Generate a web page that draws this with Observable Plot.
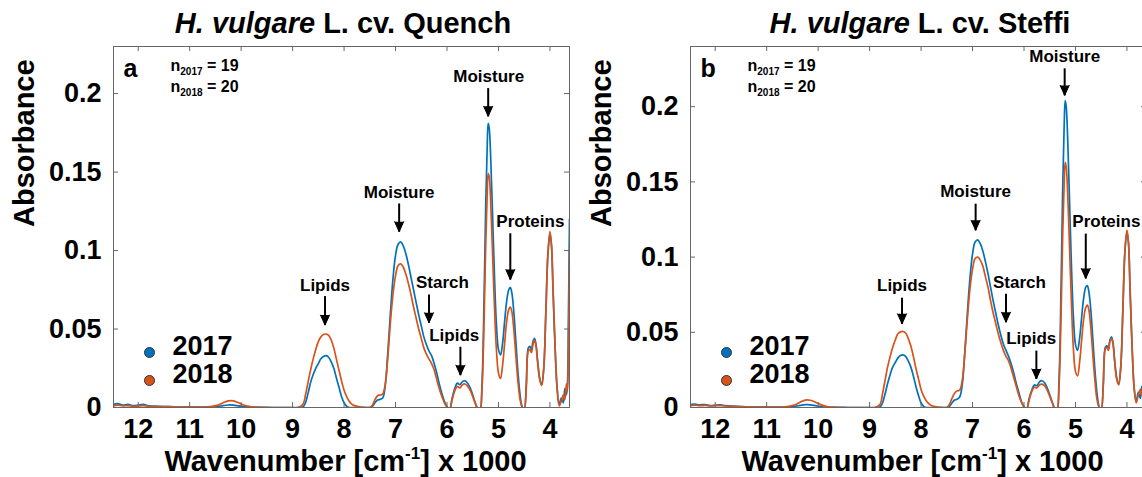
<!DOCTYPE html>
<html><head><meta charset="utf-8">
<script src="https://cdn.jsdelivr.net/npm/d3@7"></script>
<script src="https://cdn.jsdelivr.net/npm/@observablehq/plot@0.6"></script>
<style>
html,body{margin:0;padding:0;background:#fff;overflow:hidden;width:1142px;height:477px;}
#wrap{position:relative;width:1142px;height:477px;overflow:hidden;font-family:"Liberation Sans",Arial,sans-serif;}
.panel{position:absolute;top:0;width:577px;height:477px;}
.title{position:absolute;top:9px;width:600px;margin-left:-300px;text-align:center;font-weight:bold;font-size:29px;line-height:29px;white-space:nowrap;color:#000;}
</style></head><body><div id="wrap"></div>
<script>
// ---- data ----
const wavenumber = [
  12.48,12.4,12.3,12.2,12.1,12.0,11.9,11.8,11.6,11.4,
  11.2,11.0,10.8,10.6,10.45,10.35,10.25,10.15,10.05,9.95,
  9.85,9.7,9.4,9.1,8.9,8.8,8.75,8.7,8.65,8.6,
  8.55,8.5,8.45,8.4,8.35,8.3,8.25,8.2,8.15,8.1,
  8.05,8.0,7.95,7.9,7.85,7.8,7.7,7.6,7.5,7.45,
  7.4,7.35,7.3,7.25,7.2,7.15,7.1,7.05,7.0,6.95,
  6.9,6.85,6.8,6.75,6.7,6.65,6.6,6.55,6.5,6.45,
  6.4,6.35,6.3,6.25,6.2,6.15,6.1,6.05,6.0,5.95,
  5.9,5.85,5.8,5.75,5.7,5.65,5.6,5.55,5.5,5.45,
  5.4,5.36,5.32,5.28,5.25,5.22,5.2,5.18,5.15,5.12,
  5.08,5.04,5.0,4.96,4.92,4.88,4.84,4.8,4.77,4.74,
  4.7,4.66,4.62,4.58,4.54,4.5,4.46,4.42,4.39,4.36,
  4.33,4.3,4.27,4.24,4.2,4.16,4.12,4.08,4.04,4.0,
  3.97,3.94,3.9,3.86,3.82,3.78,3.74,3.71,3.68,3.66,3.64,3.62];

const quench2017 = [
  .002,.0025,.0015,.002,.0012,.0015,.002,.001,.0008,.0005,
  .0003,.0002,.0002,.0002,.0006,.0012,.0016,.0015,.001,.0005,
  .0002,.0001,0,0,0,.0003,.003,.009,.016,.021,
  .025,.028,.031,.0325,.033,.032,.029,.025,.019,.013,
  .007,.003,.0008,0,0,0,0,0,0,.0008,
  .003,.0048,.0052,.006,.014,.035,.06,.082,.097,.104,
  .1055,.103,.098,.091,.083,.075,.067,.059,.052,.045,
  .04,.036,.033,.028,.022,.015,.009,.004,.0005,-.001,
  .006,.012,.0155,.0145,.0165,.017,.0155,.0125,.008,.003,
  -.001,-.002,.015,.07,.125,.165,.181,.178,.158,.128,
  .086,.053,.037,.0335,.041,.055,.068,.075,.0765,.073,
  .06,.041,.022,.008,.0005,-.001,.015,.038,.039,.037,
  .042,.044,.04,.03,.019,.0145,.025,.06,.097,.111,
  .103,.075,.038,.012,.002,.006,.003,.012,.008,.015,.06,.12];

const quench2018 = [
  .001,.0015,.001,.0012,.0008,.001,.0012,.0008,.0006,.0005,
  .0003,.0002,.0002,.0005,.0015,.003,.0042,.0042,.003,.0016,
  .0007,.0002,0,0,0,.002,.008,.016,.024,.031,
  .037,.042,.045,.0465,.0468,.046,.043,.038,.031,.024,
  .017,.011,.007,.004,.0022,.0012,.0004,.0001,0,.0015,
  .005,.0075,.008,.0085,.015,.032,.054,.072,.084,.0905,
  .0915,.0895,.085,.079,.072,.064,.057,.05,.044,.038,
  .034,.031,.028,.024,.018,.012,.007,.003,.0003,-.001,
  .005,.0105,.0135,.0125,.0145,.015,.0135,.011,.007,.0025,
  -.001,-.002,.012,.055,.10,.135,.149,.147,.13,.103,
  .066,.037,.022,.0185,.027,.041,.055,.0625,.064,.061,
  .049,.032,.016,.005,0,-.002,.012,.036,.037,.035,
  .04,.043,.039,.029,.018,.014,.025,.06,.098,.112,
  .104,.076,.039,.012,.001,.004,.008,.005,.015,.01,.04,.10];

const steffi2017 = [
  .002,.0022,.0018,.002,.0013,.0015,.0017,.0012,.0008,.0005,
  .0003,.0002,.0002,.0003,.0008,.0014,.0019,.0018,.0012,.0006,
  .0002,.0001,0,0,0,.0003,.003,.009,.016,.022,
  .027,.030,.033,.0345,.035,.034,.031,.027,.021,.014,
  .008,.003,.0008,0,0,0,0,0,0,.0008,
  .003,.005,.0055,.007,.015,.037,.063,.086,.102,.110,
  .1115,.109,.104,.097,.089,.080,.071,.063,.055,.048,
  .042,.038,.034,.029,.023,.016,.010,.004,.0005,-.001,
  .006,.0115,.015,.0145,.017,.0178,.0165,.013,.0085,.0035,
  -.001,-.002,.018,.08,.142,.187,.204,.200,.177,.143,
  .096,.060,.042,.038,.046,.060,.073,.080,.081,.077,
  .064,.044,.024,.009,.0005,-.001,.016,.040,.041,.039,
  .045,.047,.043,.032,.020,.0155,.027,.064,.103,.117,
  .109,.079,.040,.013,.004,.010,.006,.014,.010,.016,.06,.12];

const steffi2018 = [
  .0012,.0015,.0012,.0014,.001,.0012,.0013,.001,.0007,.0005,
  .0003,.0002,.0003,.0006,.0018,.0035,.0049,.0048,.0035,.0019,
  .0008,.0002,0,0,0,.002,.009,.018,.027,.034,
  .040,.045,.049,.0503,.0505,.0495,.046,.041,.034,.026,
  .019,.012,.0075,.0045,.0025,.0013,.0004,.0001,0,.002,
  .006,.0095,.011,.0115,.018,.036,.059,.079,.092,.099,
  .1,.098,.094,.087,.080,.071,.063,.056,.049,.043,
  .038,.034,.031,.026,.020,.014,.008,.0035,.0003,-.001,
  .005,.0105,.0135,.013,.015,.0156,.0145,.0115,.0075,.003,
  -.001,-.002,.014,.062,.112,.149,.163,.160,.141,.112,
  .071,.039,.024,.021,.030,.045,.059,.0665,.068,.065,
  .052,.034,.017,.005,0,-.002,.014,.039,.040,.038,
  .044,.046,.042,.031,.019,.015,.027,.064,.104,.118,
  .110,.080,.041,.013,.003,.008,.012,.008,.016,.012,.045,.10];

const years = ["2017", "2018"];
const xTicks = [12, 11, 10, 9, 8, 7, 6, 5, 4];
const yTicks = [0, 0.05, 0.1, 0.15, 0.2];
const sampleSizes = {Quench: [19, 20], Steffi: [19, 20]};

// annotations: label, text position (tx, ty), arrow at ax from y1 down to y2
const annQuench = [
  {label: "Moisture", tx: 5.19, ty: 0.211,  ax: 5.20, y1: 0.2035, y2: 0.1855},
  {label: "Moisture", tx: 6.93, ty: 0.137,  ax: 6.93, y1: 0.130,  y2: 0.112},
  {label: "Lipids",   tx: 8.37, ty: 0.078,  ax: 8.37, y1: 0.071,  y2: 0.0525},
  {label: "Starch",   tx: 6.09, ty: 0.0795, ax: 6.35, y1: 0.072,  y2: 0.054},
  {label: "Lipids",   tx: 5.86, ty: 0.046,  ax: 5.74, y1: 0.0387, y2: 0.0206},
  {label: "Proteins", tx: 4.38, ty: 0.1185, ax: 4.77, y1: 0.111,  y2: 0.0815}
];
const annSteffi = [
  {label: "Moisture", tx: 5.21, ty: 0.2335, ax: 5.21, y1: 0.2255, y2: 0.2075},
  {label: "Moisture", tx: 6.94, ty: 0.1435, ax: 6.94, y1: 0.1355, y2: 0.1178},
  {label: "Lipids",   tx: 8.37, ty: 0.0813, ax: 8.37, y1: 0.073,  y2: 0.0556},
  {label: "Starch",   tx: 6.09, ty: 0.083,  ax: 6.35, y1: 0.0756, y2: 0.0567},
  {label: "Lipids",   tx: 5.86, ty: 0.0456, ax: 5.76, y1: 0.0378, y2: 0.019},
  {label: "Proteins", tx: 4.40, ty: 0.1235, ax: 4.80, y1: 0.1156, y2: 0.0858}
];

// ---- drawing ----
const COLORS = ["#0072BD", "#D95319"];
const FONT = "'Liberation Sans', Arial, Helvetica, sans-serif";

function makePanel({letter, cultivar, yMax, v17, v18, ann, n}) {
  const W = 577, H = 477, ML = 113, MR = 8, MT = 46, MB = 70;
  const fw = W - ML - MR, fh = H - MT - MB;
  const series = [v17, v18].map((v, k) => wavenumber.map((w, i) => ({w, a: v[i], year: years[k]})));
  const bold = {fontWeight: "bold", fill: "#000"};
  const marks = [
    ...series.map((s, k) => Plot.line(s, {x: "w", y: "a", stroke: COLORS[k], strokeWidth: 1.7, curve: "catmull-rom", clip: true})),
    Plot.frame({stroke: "#666", strokeWidth: 1}),
    Plot.tickX(xTicks, {x: d => d, stroke: "#666", insetTop: fh - 5}),
    Plot.tickX(xTicks, {x: d => d, stroke: "#666", insetBottom: fh - 5}),
    Plot.tickY(yTicks, {y: d => d, stroke: "#666", insetRight: fw - 5}),
    Plot.tickY(yTicks, {y: d => d, stroke: "#666", insetLeft: fw - 5}),
    Plot.axisX(xTicks, {tickSize: 0, tickPadding: 11, fontSize: 27, ...bold, tickFormat: d => String(d), label: null}),
    Plot.axisY(yTicks, {tickSize: 0, tickPadding: 12, fontSize: 27, ...bold, tickFormat: d => String(d), label: null}),
    Plot.text(["Absorbance"], {frameAnchor: "left", dx: -89, rotate: -90, fontSize: 29, ...bold}),
    Plot.text(["Wavenumber [cm^-1] x 1000"], {frameAnchor: "bottom", dx: 4, dy: 63, lineAnchor: "bottom", fontSize: 29, ...bold}),
    Plot.text([letter], {frameAnchor: "top-left", dx: 10, dy: 30, lineAnchor: "bottom", textAnchor: "start", fontSize: 25, ...bold}),
    ...years.map((yr, k) => Plot.text([`n_${yr} = ${n[k]}`], {frameAnchor: "top-left", dx: 57, dy: 24 + 21 * k, lineAnchor: "bottom", textAnchor: "start", fontSize: 16, ...bold})),
    ...years.map((yr, k) => Plot.dot([yr], {frameAnchor: "bottom-left", dx: 36, dy: -55 + 28 * k, r: 5, fill: COLORS[k], stroke: "#333", strokeWidth: 1})),
    ...years.map((yr, k) => Plot.text([yr], {frameAnchor: "bottom-left", dx: 59, dy: -53 + 28 * k, textAnchor: "start", fontSize: 27, ...bold})),
    Plot.link(ann, {x1: "ax", x2: "ax", y1: "y1", y2: "y2", stroke: "#000", strokeWidth: 2}),
    Plot.vector(ann, {x: "ax", y: "y2", length: 10, rotate: 180, anchor: "end", shape: "spike", r: 4.5, fill: "#000", stroke: "#000", strokeWidth: 1}),
    Plot.text(ann, {x: "tx", y: "ty", text: "label", fontSize: 17, ...bold})
  ];
  const svg = Plot.plot({
    width: W, height: H, marginLeft: ML, marginRight: MR, marginTop: MT, marginBottom: MB,
    style: {fontFamily: FONT, background: "transparent", overflow: "visible"},
    x: {domain: [12.48, 3.62]},
    y: {domain: [0, yMax]},
    marks
  });
  // sub/superscripts
  svg.querySelectorAll("text").forEach(t => {
    if (t.querySelector("tspan")) return;
    const s = t.textContent;
    let m = s.match(/^n_(\d+)( = \d+)$/);
    if (m) {
      t.textContent = "n";
      const sub = document.createElementNS("http://www.w3.org/2000/svg", "tspan");
      sub.setAttribute("font-size", "10"); sub.setAttribute("dy", "4"); sub.textContent = m[1];
      const rest = document.createElementNS("http://www.w3.org/2000/svg", "tspan");
      rest.setAttribute("dy", "-4"); rest.textContent = m[2];
      t.append(sub, rest);
      return;
    }
    m = s.match(/^(.*)\^(-1)(.*)$/);
    if (m) {
      t.textContent = m[1];
      const sup = document.createElementNS("http://www.w3.org/2000/svg", "tspan");
      sup.setAttribute("font-size", "17"); sup.setAttribute("dy", "-12"); sup.textContent = m[2];
      const rest = document.createElementNS("http://www.w3.org/2000/svg", "tspan");
      rest.setAttribute("dy", "12"); rest.textContent = m[3];
      t.append(sup, rest);
    }
  });
  const div = document.createElement("div");
  div.className = "panel";
  div.appendChild(svg);
  const title = document.createElement("div");
  title.className = "title";
  title.style.left = (ML + fw / 2 + 2) + "px";
  title.innerHTML = `<i>H. vulgare</i> L. cv. ${cultivar}`;
  div.appendChild(title);
  return div;
}

const wrap = document.getElementById("wrap");
const pa = makePanel({letter: "a", cultivar: "Quench", yMax: 0.23, v17: quench2017, v18: quench2018, ann: annQuench, n: sampleSizes.Quench});
pa.style.left = "0px";
const pb = makePanel({letter: "b", cultivar: "Steffi", yMax: 0.24, v17: steffi2017, v18: steffi2018, ann: annSteffi, n: sampleSizes.Steffi});
pb.style.left = "577px";
wrap.append(pa, pb);
</script></body></html>
